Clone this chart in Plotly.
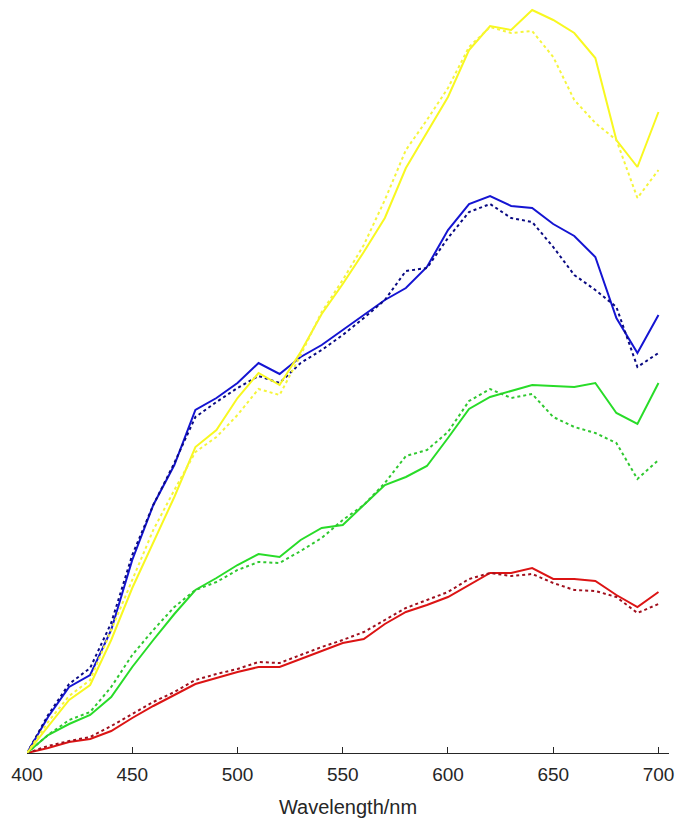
import plotly.graph_objects as go

wavelength = list(range(400, 701, 10))

# relative spectra (arbitrary units), measured = solid, estimated = dotted
yellow_solid = [0, 27, 53, 68, 113, 165, 211, 256, 306, 323, 355, 380, 368, 401, 439, 469,
                501, 535, 585, 621, 656, 703, 727, 723, 743, 733, 720, 695, 613, 586, 641]
yellow_dot = [0, 31, 57, 73, 123, 173, 223, 263, 301, 316, 338, 364, 358, 398, 441, 473,
              508, 553, 603, 633, 665, 706, 726, 720, 722, 696, 653, 630, 613, 555, 583]
blue_solid = [0, 36, 66, 78, 123, 193, 248, 288, 343, 355, 370, 390, 379, 396, 408, 423,
              438, 453, 465, 486, 523, 549, 557, 547, 545, 529, 517, 496, 435, 400, 438]
blue_dot = [0, 38, 69, 85, 130, 198, 248, 290, 336, 351, 365, 377, 370, 390, 403, 418,
            435, 453, 482, 485, 515, 541, 549, 535, 531, 506, 478, 463, 446, 386, 400]
green_solid = [0, 18, 29, 38, 56, 86, 113, 139, 163, 175, 188, 199, 196, 213, 225, 228,
               248, 268, 276, 287, 315, 344, 356, 362, 368, 367, 366, 370, 340, 329, 370]
green_dot = [0, 18, 33, 41, 66, 98, 123, 146, 163, 171, 183, 191, 190, 202, 215, 233,
             248, 270, 297, 303, 321, 352, 364, 355, 359, 336, 326, 320, 310, 274, 293]
red_solid = [0, 5, 11, 14, 22, 35, 47, 58, 69, 75, 81, 86, 86, 94, 102, 110,
             114, 129, 141, 148, 156, 168, 180, 180, 185, 174, 174, 172, 158, 146, 161]
red_dot = [0, 7, 12, 16, 27, 39, 51, 61, 73, 79, 84, 91, 90, 98, 106, 113,
           121, 133, 145, 153, 161, 174, 180, 177, 179, 170, 163, 162, 156, 140, 149]

xticks = [400, 450, 500, 550, 600, 650, 700]

series = [
    (red_solid, "#dc1414", "solid"),
    (red_dot, "#a0101e", "dot"),
    (green_solid, "#28dc28", "solid"),
    (green_dot, "#30c830", "dot"),
    (blue_solid, "#1414d2", "solid"),
    (blue_dot, "#0a0a82", "dot"),
    (yellow_solid, "#f8f820", "solid"),
    (yellow_dot, "#f5f53c", "dot"),
]

fig = go.Figure()
for vals, col, dash in series:
    fig.add_trace(go.Scatter(x=wavelength, y=vals, mode="lines",
                             line=dict(color=col, width=2, dash=dash),
                             showlegend=False, cliponaxis=False))

# the page body adds an 8px offset, so margins are shifted to compensate
fig.update_layout(
    width=687, height=824,
    margin=dict(l=19, r=26, t=0, b=79),
    paper_bgcolor="white", plot_bgcolor="white",
    font=dict(family="Liberation Sans, Arial", color="#262626"),
)
fig.update_xaxes(
    range=[400, 705], tickvals=xticks, ticks="inside", ticklen=6, tickcolor="#262626",
    showline=True, linecolor="#262626", linewidth=1, showgrid=False, zeroline=False,
    automargin=False, tickfont=dict(size=19), ticklabelstandoff=4,
    title=dict(text="Wavelength/nm", font=dict(size=20), standoff=16),
)
fig.update_yaxes(range=[0, 745], visible=False)

fig.write_html("out.html")
